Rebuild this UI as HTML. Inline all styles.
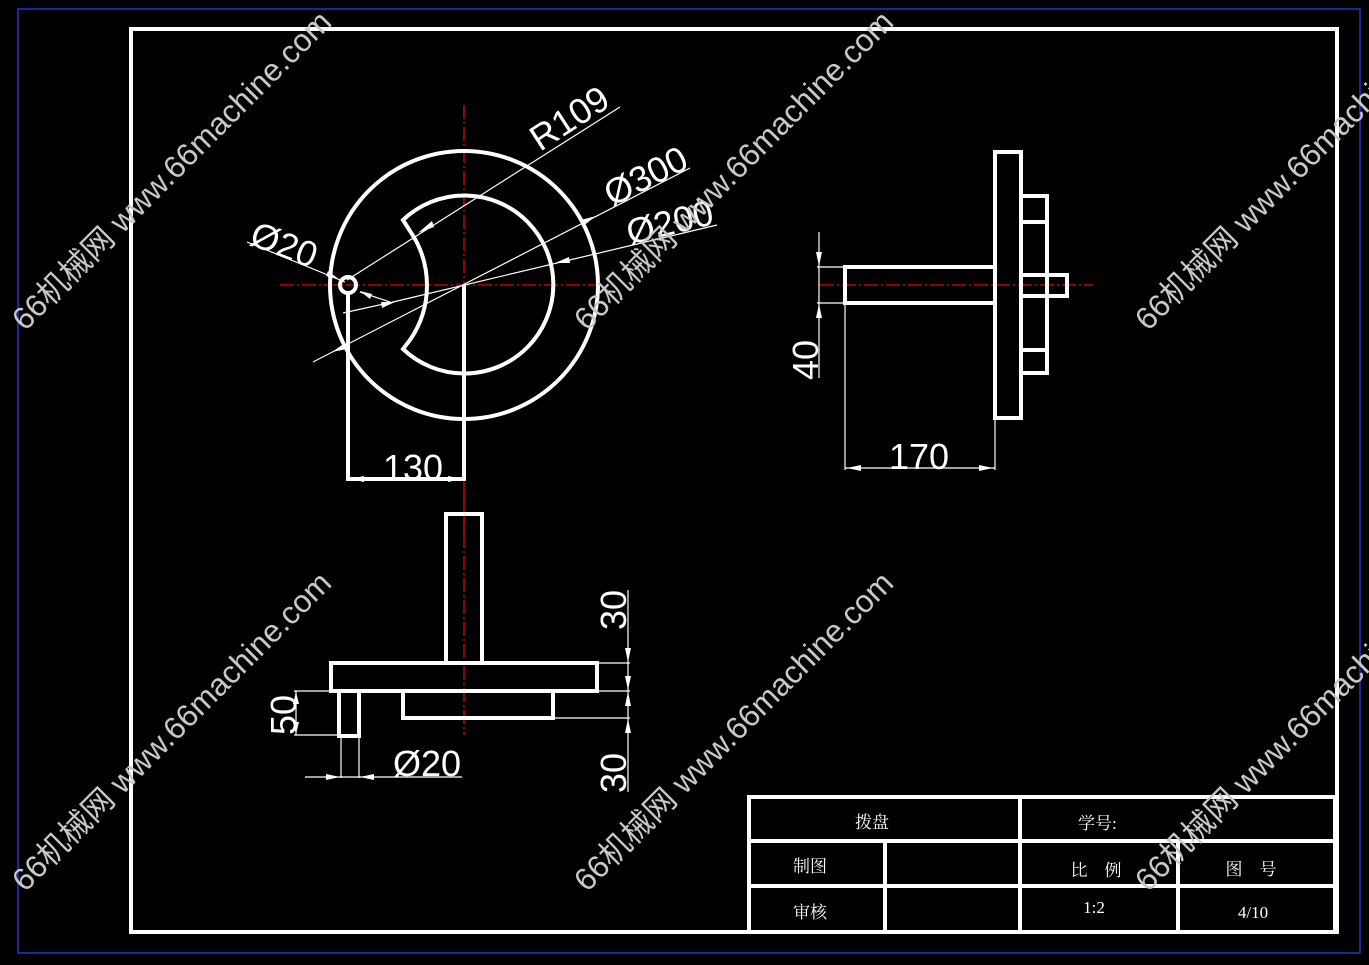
<!DOCTYPE html>
<html><head><meta charset="utf-8"><style>
html,body{margin:0;padding:0;background:#000;}
svg{display:block}
.w{stroke:#fff;stroke-width:4;fill:none}
.t{stroke:#fff;stroke-width:1.2;fill:none}
.r{stroke:#e00;stroke-width:1.3;fill:none;stroke-dasharray:14 3 2 3}
.d{fill:#fff;font-family:"Liberation Sans",sans-serif;font-size:36px}
.c{fill:#fff;font-family:"Liberation Serif","Noto Serif CJK SC",serif;font-size:17px}
.wm{fill:#c8c8c8;font-family:"Liberation Sans","Noto Sans CJK SC",sans-serif;font-size:31.5px}
</style></head><body>
<svg width="1369" height="965" viewBox="0 0 1369 965" xmlns="http://www.w3.org/2000/svg">
<rect x="18" y="9" width="1342" height="944" fill="none" stroke="#2233dd" stroke-width="1.5"/>
<rect x="131" y="29" width="1206" height="903" class="w"/>

<!-- top view -->
<line x1="464" y1="105" x2="464" y2="420" class="r"/>
<line x1="464" y1="480" x2="464" y2="535" class="r"/>
<line x1="280" y1="285" x2="600" y2="285" class="r"/>
<circle cx="464" cy="285" r="134" class="w"/>
<path d="M403 220 L410 231 A96 96 0 0 1 410 340 L403 349 A89 89 0 1 0 403 220 Z" class="w"/>
<circle cx="348" cy="285" r="8" class="w"/>
<line x1="348" y1="292" x2="348" y2="481" class="w"/>
<line x1="464" y1="285" x2="464" y2="481" class="w"/>
<line x1="348" y1="479" x2="464" y2="479" class="w" stroke-width="2"/>
<polygon points="350,479 364,476 364,482" fill="#fff"/>
<polygon points="462,479 448,476 448,482" fill="#fff"/>
<text x="413" y="480" class="d" text-anchor="middle">130</text>
<line x1="347" y1="280" x2="620" y2="107" class="t"/>
<polygon points="418,233 432,221 434,227" fill="#fff"/>
<line x1="313" y1="362" x2="690" y2="168" class="t"/>
<polygon points="332,352 345,343 347,349" fill="#fff"/>
<polygon points="596,216 583,226 581,220" fill="#fff"/>
<line x1="343" y1="313" x2="393" y2="302" class="t"/>
<polygon points="395,302 381,302 382,308" fill="#fff"/>
<line x1="393" y1="302" x2="717" y2="225" class="t"/>
<polygon points="555,263 569,257 570,263" fill="#fff"/>
<line x1="247" y1="242" x2="345" y2="282" class="t"/>
<polygon points="340,280 326,276 328,271" fill="#fff"/>
<line x1="360" y1="292" x2="390" y2="302" class="t"/>
<polygon points="360,291 372,294 370,299" fill="#fff"/>
<text class="d" transform="translate(540,152) rotate(-33)">R109</text>
<text class="d" transform="translate(612,207) rotate(-27)">Ø300</text>
<text class="d" transform="translate(630,245) rotate(-14)">Ø200</text>
<text class="d" transform="translate(248,244) rotate(21)">Ø20</text>

<!-- side view -->
<line x1="820" y1="285" x2="1093" y2="285" class="r"/>
<rect x="995" y="152" width="26" height="266" class="w"/>
<rect x="845" y="267" width="150" height="36" class="w"/>
<rect x="1021" y="196" width="26" height="177" class="w"/>
<line x1="1021" y1="222" x2="1047" y2="222" class="w"/>
<line x1="1021" y1="350" x2="1047" y2="350" class="w"/>
<rect x="1021" y="275" width="46" height="21" class="w"/>
<line x1="819" y1="232" x2="819" y2="378" class="t"/>
<polygon points="819,266 816,252 822,252" fill="#fff"/>
<polygon points="819,304 816,318 822,318" fill="#fff"/>
<line x1="817" y1="267" x2="845" y2="267" class="t"/>
<line x1="817" y1="303" x2="845" y2="303" class="t"/>
<text class="d" transform="translate(818,380) rotate(-90)">40</text>
<line x1="845" y1="303" x2="845" y2="470" class="t"/>
<line x1="995" y1="418" x2="995" y2="470" class="t"/>
<line x1="845" y1="468" x2="995" y2="468" class="t" stroke-width="2"/>
<polygon points="847,468 861,465 861,471" fill="#fff"/>
<polygon points="993,468 979,465 979,471" fill="#fff"/>
<text x="919" y="469" class="d" text-anchor="middle">170</text>

<!-- front view -->
<line x1="464" y1="490" x2="464" y2="735" class="r"/>
<rect x="446" y="514" width="36" height="149" class="w"/>
<rect x="331" y="663" width="266" height="28" class="w"/>
<rect x="403" y="691" width="150" height="27" class="w"/>
<rect x="339" y="691" width="20" height="45" class="w"/>
<line x1="628" y1="590" x2="628" y2="792" class="t"/>
<polygon points="628,662 625,648 631,648" fill="#fff"/>
<polygon points="628,690 625,676 631,676" fill="#fff"/>
<polygon points="628,692 625,706 631,706" fill="#fff"/>
<polygon points="628,719 625,733 631,733" fill="#fff"/>
<line x1="597" y1="663" x2="630" y2="663" class="t"/>
<line x1="597" y1="691" x2="630" y2="691" class="t"/>
<line x1="553" y1="718" x2="630" y2="718" class="t"/>
<text class="d" transform="translate(626,630) rotate(-90)">30</text>
<text class="d" transform="translate(626,793) rotate(-90)">30</text>
<line x1="296" y1="691" x2="296" y2="735" class="t"/>
<polygon points="296,692 293,704 299,704" fill="#fff"/>
<polygon points="296,734 293,722 299,722" fill="#fff"/>
<line x1="294" y1="691" x2="339" y2="691" class="t"/>
<line x1="294" y1="735" x2="339" y2="735" class="t"/>
<text class="d" transform="translate(296,735) rotate(-90)">50</text>
<line x1="341" y1="736" x2="341" y2="778" class="t"/>
<line x1="359" y1="736" x2="359" y2="778" class="t"/>
<line x1="305" y1="777" x2="462" y2="777" class="t"/>
<polygon points="340,777 326,774 326,780" fill="#fff"/>
<polygon points="360,777 374,774 374,780" fill="#fff"/>
<text x="393" y="776" class="d">Ø20</text>

<!-- title block -->
<rect x="749" y="797" width="586" height="135" class="w"/>
<line x1="749" y1="841" x2="1335" y2="841" class="w"/>
<line x1="749" y1="886" x2="1335" y2="886" class="w"/>
<line x1="1020" y1="797" x2="1020" y2="932" class="w"/>
<line x1="885" y1="841" x2="885" y2="932" class="w"/>
<line x1="1178" y1="841" x2="1178" y2="932" class="w"/>
<text x="872" y="828" class="c" text-anchor="middle">拨盘</text>
<text x="1078" y="829" class="c">学号:</text>
<text x="810" y="872" class="c" text-anchor="middle">制图</text>
<text x="810" y="918" class="c" text-anchor="middle">审核</text>
<text x="1096" y="876" class="c" text-anchor="middle">比　例</text>
<text x="1251" y="875" class="c" text-anchor="middle">图　号</text>
<text x="1094" y="913" class="c" text-anchor="middle">1:2</text>
<text x="1253" y="918" class="c" text-anchor="middle">4/10</text>

<!-- watermarks -->
<g class="wm">
<text transform="translate(25,332) rotate(-45)">66机械网 www.66machine.com</text>
<text transform="translate(587,332) rotate(-45)">66机械网 www.66machine.com</text>
<text transform="translate(1148,332) rotate(-45)">66机械网 www.66machine.com</text>
<text transform="translate(25,893) rotate(-45)">66机械网 www.66machine.com</text>
<text transform="translate(587,893) rotate(-45)">66机械网 www.66machine.com</text>
<text transform="translate(1148,893) rotate(-45)">66机械网 www.66machine.com</text>
</g>
</svg>
</body></html>
